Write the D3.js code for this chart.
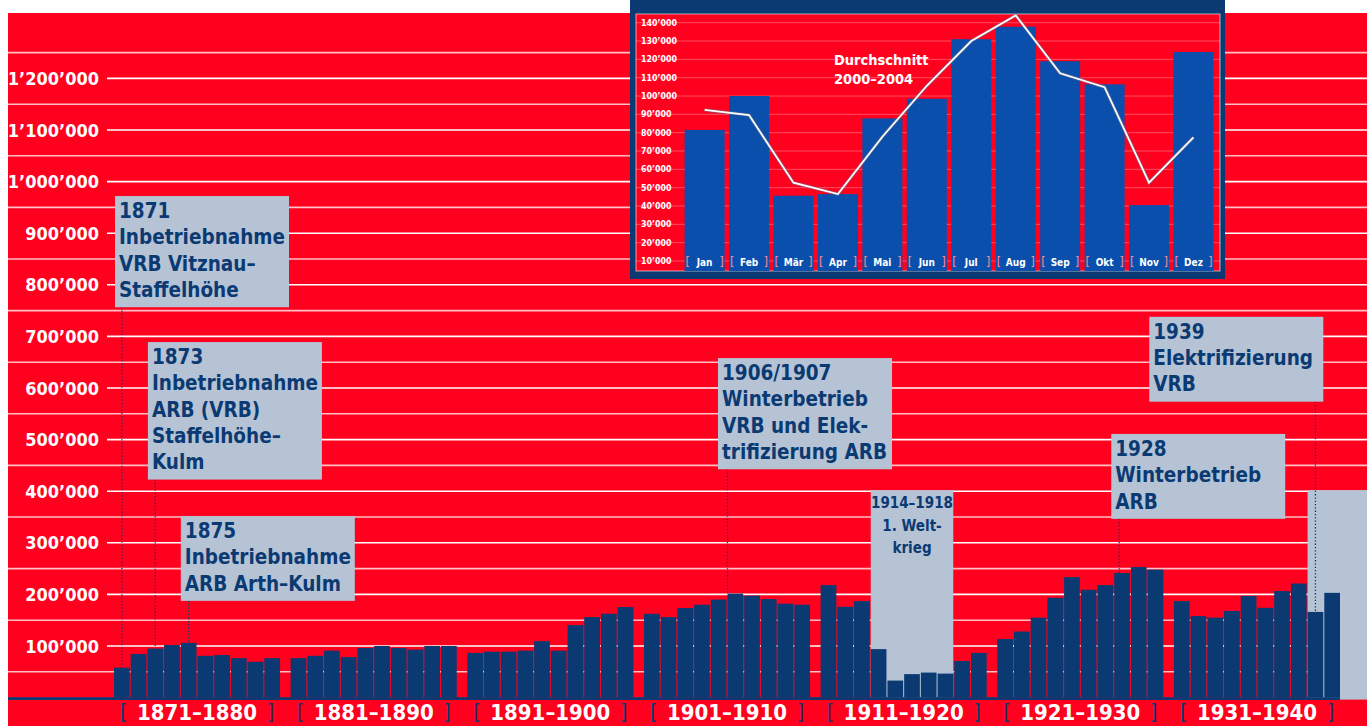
<!DOCTYPE html>
<html>
<head>
<meta charset="utf-8">
<script src="https://cdn.jsdelivr.net/npm/d3@7"></script>
<style>
html,body{margin:0;padding:0;background:#fff;overflow:hidden}
svg{display:block;font-family:"DejaVu Sans Condensed","DejaVu Sans",sans-serif;font-stretch:condensed;font-weight:bold}
</style>
</head>
<body>
<div id="chart"></div>
<script>
// Rigi-Bahnen: Passagiere pro Jahr 1871-1940, Inset: Monate
const decades = ['1871–1880','1881–1890','1891–1900','1901–1910','1911–1920','1921–1930','1931–1940'];
const years = [
  1871,1872,1873,1874,1875,1876,1877,1878,1879,1880,
  1881,1882,1883,1884,1885,1886,1887,1888,1889,1890,
  1891,1892,1893,1894,1895,1896,1897,1898,1899,1900,
  1901,1902,1903,1904,1905,1906,1907,1908,1909,1910,
  1911,1912,1913,1914,1915,1916,1917,1918,1919,1920,
  1921,1922,1923,1924,1925,1926,1927,1928,1929,1930,
  1931,1932,1933,1934,1935,1936,1937,1938,1939,1940];
const riders = [
  58000,84500,95000,102000,106000,81000,82500,76500,69500,76500,
  76500,81000,91000,78500,96000,100000,96000,93000,100000,100000,
  86500,89000,89000,91000,109500,91000,140500,156000,162500,175500,
  162500,156000,173500,180000,190000,201500,197500,191000,182000,180000,
  218000,176000,187000,94000,33000,45500,48500,46500,71000,86500,
  113500,128000,155000,193500,233500,209000,218000,241500,253000,248000,
  187000,158000,155000,168000,197000,174000,206500,221000,166000,203000];
const yTicks = [100000,200000,300000,400000,500000,600000,700000,800000,900000,1000000,1100000,1200000];
const yHalfTicks = [50000,150000,250000,350000,450000,550000,650000,750000,850000,950000,1050000,1150000,1250000];

const months = ['Jan','Feb','Mär','Apr','Mai','Jun','Jul','Aug','Sep','Okt','Nov','Dez'];
const monthRiders = [81500,100000,45600,46500,87800,98500,131000,137800,119000,106400,40500,124000];
const monthAverage = [92400,89600,52700,46500,77800,105600,130000,144000,112400,104800,52700,77500];
const monthTicks = [10000,20000,30000,40000,50000,60000,70000,80000,90000,100000,110000,120000,130000,140000];

const notes = [
  {year:1871, lines:['1871','Inbetriebnahme','VRB Vitznau–','Staffelhöhe']},
  {year:1873, lines:['1873','Inbetriebnahme','ARB (VRB)','Staffelhöhe–','Kulm']},
  {year:1875, lines:['1875','Inbetriebnahme','ARB Arth–Kulm']},
  {year:1906, lines:['1906/1907','Winterbetrieb','VRB und Elek-','trifizierung ARB']},
  {year:1928, lines:['1928','Winterbetrieb','ARB']},
  {year:1939, lines:['1939','Elektrifizierung','VRB']}
];
const warNote = ['1914–1918','1. Welt-','krieg'];

const RED = '#ff001e', NAVY = '#0b3a73', GREY = '#b5c3d5', BLUE = '#0b4fad';
const W = 1367, H = 726;
const fmt = d3.formatLocale({decimal:'.', thousands:'’', grouping:[3], currency:['','']}).format(',');

const svg = d3.select('#chart').append('svg').attr('width', W).attr('height', H);
svg.append('rect').attr('x', 8).attr('y', 13).attr('width', W - 8).attr('height', H - 13).attr('fill', RED);

const y = d3.scaleLinear().domain([0, 1300000]).range([697.6, 26.8]);
const xDec = d3.scaleBand().domain(decades).range([114, 1340]).paddingInner(0.06).paddingOuter(0);
const xYr = d3.scaleBand().domain(d3.range(10)).range([0, xDec.bandwidth()]).paddingInner(0.06);
const bw = xYr.bandwidth();
function xYear(yr){ const i = years.indexOf(yr); return xDec(decades[Math.floor(i / 10)]) + xYr(i % 10); }

// gridlines
svg.append('g').selectAll('line').data(yHalfTicks).enter().append('line')
  .attr('x1', 8).attr('x2', W).attr('y1', d => y(d)).attr('y2', d => y(d))
  .attr('stroke', '#fff').attr('stroke-opacity', 0.75).attr('stroke-width', 1.6);
svg.append('g').selectAll('line').data(yTicks).enter().append('line')
  .attr('x1', 107).attr('x2', W).attr('y1', d => y(d)).attr('y2', d => y(d))
  .attr('stroke', '#fff').attr('stroke-width', 1.6);
svg.append('g').selectAll('text').data(yTicks).enter().append('text')
  .attr('x', 99).attr('y', d => y(d) + 6.5).attr('text-anchor', 'end')
  .attr('fill', '#fff').attr('font-size', 18).text(d => fmt(d));

// annotation boxes
const boxW = 174, lineH = 26.3;
const noteLayout = {
  1871: {top: 972000, dx: 1,   lx: bw / 2},
  1873: {top: 689000, dx: 0.5, lx: bw / 2},
  1875: {top: 352000, dx: 0,   lx: bw / 2},
  1906: {top: 658000, dx: -9.5, lx: 0},
  1928: {top: 511000, dx: -3,  lx: 5},
  1939: {top: 738000, dx: bw - boxW, lx: bw / 2}
};
// grey background boxes for WW1 and 1939+
svg.append('rect').attr('x', xYear(1914)).attr('y', y(402000))
  .attr('width', xYear(1918) + bw - xYear(1914)).attr('height', y(0) - y(402000)).attr('fill', GREY);
svg.append('rect').attr('x', xYear(1939)).attr('y', y(402000))
  .attr('width', W - xYear(1939)).attr('height', y(0) - y(402000) + 2).attr('fill', GREY);

const noteG = svg.append('g');
notes.forEach(n => {
  const L = noteLayout[n.year];
  const bx = xYear(n.year) + L.dx, by = y(L.top), bh = n.lines.length * lineH + 6;
  const v = riders[years.indexOf(n.year)];
  noteG.append('line').attr('x1', xYear(n.year) + L.lx).attr('x2', xYear(n.year) + L.lx)
    .attr('y1', by + bh).attr('y2', y(v)).attr('stroke', NAVY).attr('stroke-width', 1.3)
    .attr('stroke-dasharray', '1.3,2');
  noteG.append('rect').attr('x', bx).attr('y', by).attr('width', boxW).attr('height', bh).attr('fill', GREY);
  noteG.append('g').selectAll('text').data(n.lines).enter().append('text')
    .attr('x', bx + 4).attr('y', (d, i) => by + 22 + i * lineH)
    .attr('fill', NAVY).attr('font-size', 20.5).text(d => d);
});
const wx = xYear(1914) + (xYear(1918) + bw - xYear(1914)) / 2;
svg.append('g').selectAll('text').data(warNote).enter().append('text')
  .attr('x', wx).attr('y', (d, i) => y(402000) + 18 + i * 22.5).attr('text-anchor', 'middle')
  .attr('fill', NAVY).attr('font-size', 15).text(d => d);

// bars
svg.append('g').selectAll('rect').data(riders).enter().append('rect')
  .attr('x', (d, i) => xYear(years[i])).attr('y', d => y(d))
  .attr('width', bw).attr('height', d => y(0) - y(d)).attr('fill', NAVY);
svg.append('line').attr('x1', 8).attr('x2', 1340).attr('y1', y(0) + 1).attr('y2', y(0) + 1)
  .attr('stroke', NAVY).attr('stroke-width', 2.6);

// decade labels
const decG = svg.append('g').selectAll('g').data(decades).enter().append('g');
decG.append('text').attr('x', d => xDec(d) + xDec.bandwidth() / 2).attr('y', 720)
  .attr('text-anchor', 'middle').attr('fill', '#fff').attr('font-size', 22).text(d => d);
decG.append('text').attr('x', d => xDec(d) + 6).attr('y', 719).attr('fill', NAVY)
  .attr('font-size', 21).attr('font-weight', 'normal').text('[');
decG.append('text').attr('x', d => xDec(d) + xDec.bandwidth() - 6).attr('y', 719).attr('text-anchor', 'end')
  .attr('fill', NAVY).attr('font-size', 21).attr('font-weight', 'normal').text(']');

// inset: monthly
const inset = svg.append('g');
inset.append('rect').attr('x', 630).attr('y', 0).attr('width', 595).attr('height', 279).attr('fill', NAVY);
inset.append('rect').attr('x', 636).attr('y', 14).attr('width', 584).attr('height', 257)
  .attr('fill', RED).attr('stroke', '#fff').attr('stroke-opacity', 0.6).attr('stroke-width', 1);
const yI = d3.scaleLinear().domain([10000, 140000]).range([261, 22.7]);
const xI = d3.scaleBand().domain(months).range([682.4, 1215.7]).paddingInner(0.1).paddingOuter(0.05);
inset.append('g').selectAll('line').data(monthTicks).enter().append('line')
  .attr('x1', 636).attr('x2', 1220).attr('y1', d => yI(d)).attr('y2', d => yI(d))
  .attr('stroke', '#fff').attr('stroke-opacity', 0.3).attr('stroke-width', 1);
inset.append('g').selectAll('text').data(monthTicks).enter().append('text')
  .attr('x', 641).attr('y', d => yI(d) + 3).attr('fill', '#fff').attr('font-size', 8.8).text(d => fmt(d));
inset.append('g').selectAll('rect').data(monthRiders).enter().append('rect')
  .attr('x', (d, i) => xI(months[i])).attr('y', d => yI(d))
  .attr('width', xI.bandwidth()).attr('height', d => 271 - yI(d)).attr('fill', BLUE);
const mg = inset.append('g').selectAll('g').data(months).enter().append('g');
mg.append('text').attr('x', d => xI(d) + xI.bandwidth() / 2).attr('y', 265.5).attr('text-anchor', 'middle')
  .attr('fill', '#fff').attr('font-size', 10).text(d => d);
mg.append('text').attr('x', d => xI(d) + 1).attr('y', 266).attr('fill', '#ff8a98')
  .attr('font-size', 12).attr('font-weight', 'normal').text('[');
mg.append('text').attr('x', d => xI(d) + xI.bandwidth() - 1).attr('y', 266).attr('text-anchor', 'end')
  .attr('fill', '#ff8a98').attr('font-size', 12).attr('font-weight', 'normal').text(']');
const avgLine = d3.line().x((d, i) => xI(months[i]) + xI.bandwidth() / 2).y(d => yI(d));
inset.append('path').datum(monthAverage).attr('d', avgLine).attr('fill', 'none')
  .attr('stroke', '#6b6f8a').attr('stroke-opacity', 0.6).attr('stroke-width', 3.4);
inset.append('path').datum(monthAverage).attr('d', avgLine).attr('fill', 'none')
  .attr('stroke', '#fff').attr('stroke-width', 1.8);
inset.append('text').attr('x', 834).attr('y', 65).attr('fill', '#fff').attr('font-size', 14.5).text('Durchschnitt');
inset.append('text').attr('x', 834).attr('y', 84).attr('fill', '#fff').attr('font-size', 14.5).text('2000–2004');
</script>
</body>
</html>
